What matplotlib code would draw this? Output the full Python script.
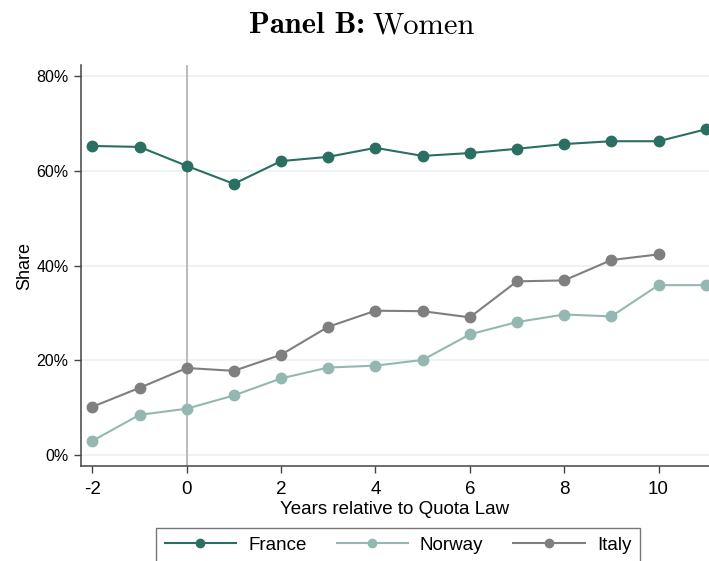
import matplotlib
matplotlib.use("Agg")
import matplotlib.pyplot as plt
from matplotlib.ticker import FuncFormatter

years = list(range(-2, 12))
france = [65.3, 65.1, 61.1, 57.3, 62.1, 63.0, 64.9, 63.2, 63.8, 64.7, 65.7, 66.3, 66.3, 68.8]
norway = [3.0, 8.5, 9.8, 12.6, 16.2, 18.5, 18.9, 20.1, 25.5, 28.1, 29.7, 29.3, 35.9, 35.9]
italy_years = list(range(-2, 11))
italy = [10.2, 14.2, 18.4, 17.8, 21.2, 27.1, 30.5, 30.4, 29.1, 36.7, 36.9, 41.2, 42.4]
xticks = [-2, 0, 2, 4, 6, 8, 10]
yticks = [0, 20, 40, 60, 80]

plt.rcParams['font.family'] = ['Liberation Sans', 'DejaVu Sans']
plt.rcParams['axes.unicode_minus'] = False

fig = plt.figure(figsize=(7.09, 5.61), dpi=100)
ax = fig.add_axes([81/709, 1 - 466/561, 1 - 81/709, (466 - 65)/561])

c_fr = '#2b6e62'
c_no = '#94b8b1'
c_it = '#7f7f7f'

ax.axvline(0, color='#b5b5b5', lw=1.3, zorder=1)
for yv in yticks:
    ax.axhline(yv, color='#eaf1f3', lw=1.2, zorder=0)

ax.plot(years, france, '-o', color=c_fr, lw=1.5, ms=7.5, label='France', zorder=3)
ax.plot(years, norway, '-o', color=c_no, lw=1.5, ms=7.5, label='Norway', zorder=3)
ax.plot(italy_years, italy, '-o', color=c_it, lw=1.5, ms=7.5, label='Italy', zorder=3)

ax.set_xlim(-2.24, 11.07)
ax.set_ylim(-2.3, 82.4)
ax.set_xticks(xticks)
ax.set_yticks(yticks)
ax.xaxis.set_major_formatter(FuncFormatter(lambda v, p: f"{int(v)}"))
ax.yaxis.set_major_formatter(FuncFormatter(lambda v, p: f"{int(v)}%"))
ax.tick_params(axis='both', direction='out', length=5, width=1, color='#444444')
ax.tick_params(axis='x', labelsize=13.5, pad=6)
ax.tick_params(axis='y', labelsize=11.5, pad=4)
for s in ['top', 'right']:
    ax.spines[s].set_visible(False)
for s in ['left', 'bottom']:
    ax.spines[s].set_color('#444444')
    ax.spines[s].set_linewidth(1.1)

ax.set_xlabel('Years relative to Quota Law', fontsize=13.5, labelpad=2)
ax.set_ylabel('Share', fontsize=13, labelpad=2)

# title: bold "Panel B:" + regular "Women" in Computer Modern
t1 = fig.text(0, 1 - 33/561, 'Panel B:', family='cmb10', fontsize=22, ha='left', va='baseline')
t2 = fig.text(0, 1 - 33/561, 'Women', family='cmr10', fontsize=22, ha='left', va='baseline')
fig.canvas.draw()
r = fig.canvas.get_renderer()
w1 = t1.get_window_extent(r).width
w2 = t2.get_window_extent(r).width
gap = 7
total = w1 + gap + w2
x0 = 362 - total / 2
t1.set_x(x0 / 709)
t2.set_x((x0 + w1 + gap) / 709)

leg = fig.legend(loc='upper center', bbox_to_anchor=(398/709, 1 - 528/561), ncol=3,
                 frameon=True, fancybox=False, edgecolor='#555555', fontsize=13.5,
                 handlelength=3.8, columnspacing=1.6, handletextpad=0.65, borderpad=0.45,
                 borderaxespad=0, markerscale=0.8)
leg.get_frame().set_linewidth(1.0)

fig.savefig('out.png', dpi=100)
